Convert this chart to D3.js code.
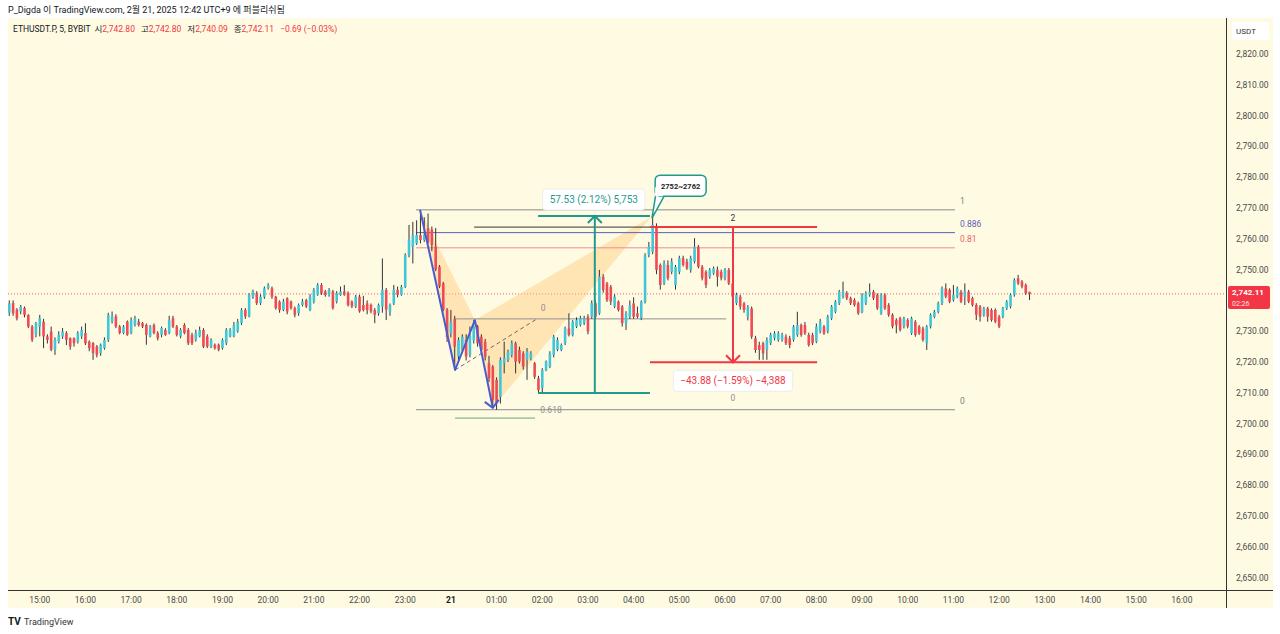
<!DOCTYPE html>
<html>
<head>
<meta charset="utf-8">
<script src="https://cdn.jsdelivr.net/npm/d3@7"></script>
<style>
  body { margin:0; background:#fff; }
  svg { display:block; font-family: Roboto, "Noto Sans CJK KR", "Noto Sans", sans-serif; }
</style>
</head>
<body>
<svg id="chart" width="1280" height="634"></svg>
<script>
/* ETHUSDT.P 5m candles, first bar 14:20, [open, high, low, close] */
var candles = [
[2736.0,2740.0,2735.0,2739.0],[2739.1,2740.0,2735.0,2735.8],[2737.0,2737.5,2733.5,2734.2],[2736.4,2738.5,2735.5,2738.0],
[2737.5,2738.0,2734.5,2735.3],[2735.3,2735.5,2731.0,2731.5],[2731.5,2732.0,2726.5,2727.2],[2728.8,2733.0,2728.0,2732.6],
[2731.5,2735.3,2728.3,2734.2],[2733.1,2734.0,2724.5,2728.3],[2728.3,2729.0,2726.0,2727.2],[2729.9,2731.5,2723.5,2724.0],
[2724.0,2728.0,2722.3,2727.2],[2726.6,2730.0,2726.0,2728.8],[2728.3,2731.0,2727.5,2729.9],[2729.4,2730.0,2725.5,2727.2],
[2727.7,2728.0,2724.0,2725.0],[2727.7,2728.0,2725.0,2726.1],[2726.6,2730.0,2726.0,2729.4],[2728.3,2731.5,2727.5,2730.4],
[2729.4,2732.6,2725.5,2726.1],[2726.6,2727.0,2723.5,2724.5],[2726.1,2726.5,2720.7,2722.9],[2725.0,2725.5,2721.5,2722.3],
[2722.9,2726.0,2722.0,2725.6],[2724.5,2728.0,2724.0,2727.2],[2727.2,2736.0,2726.5,2735.3],[2733.1,2736.4,2732.5,2734.8],
[2734.8,2735.5,2731.0,2731.5],[2731.5,2732.0,2729.0,2729.4],[2729.4,2732.0,2729.0,2731.5],[2733.1,2733.5,2728.5,2728.8],
[2729.4,2734.5,2729.0,2733.6],[2732.0,2735.0,2731.5,2734.2],[2733.1,2734.0,2731.5,2732.0],[2732.6,2733.0,2731.0,2731.5],
[2732.0,2732.5,2725.6,2728.8],[2728.3,2732.0,2728.0,2731.5],[2732.0,2732.5,2729.0,2729.4],[2729.4,2730.0,2727.0,2727.7],
[2728.8,2731.5,2728.0,2731.0],[2730.4,2731.0,2728.5,2728.8],[2729.4,2735.0,2729.0,2733.6],[2734.2,2735.0,2731.0,2731.5],
[2731.5,2732.0,2728.3,2728.8],[2728.3,2731.0,2727.7,2730.4],[2732.0,2732.6,2729.0,2729.4],[2730.4,2731.0,2725.5,2726.1],
[2728.8,2729.5,2725.5,2726.1],[2727.2,2730.5,2726.6,2729.4],[2728.3,2731.5,2728.0,2730.4],[2730.4,2731.0,2724.5,2725.0],
[2728.3,2729.0,2724.5,2725.0],[2725.0,2727.7,2724.5,2727.2],[2725.6,2726.0,2724.0,2724.5],[2725.6,2726.0,2723.5,2724.0],
[2724.5,2727.7,2724.0,2727.2],[2726.1,2731.0,2725.5,2730.4],[2728.3,2731.0,2728.0,2730.4],[2728.3,2733.0,2728.0,2732.0],
[2729.9,2734.0,2729.5,2733.1],[2732.6,2737.5,2732.0,2736.9],[2736.9,2737.5,2734.0,2734.8],[2734.8,2742.3,2734.5,2741.8],
[2741.2,2743.5,2740.5,2742.9],[2742.3,2743.0,2738.5,2739.1],[2739.1,2742.0,2738.5,2741.2],[2741.2,2744.5,2740.5,2743.9],
[2744.0,2745.6,2743.5,2745.0],[2743.9,2744.5,2740.5,2741.2],[2741.2,2741.5,2737.0,2737.5],[2739.6,2740.0,2736.0,2736.9],
[2736.9,2740.5,2736.5,2739.6],[2740.7,2741.0,2735.5,2736.4],[2739.6,2740.0,2737.0,2737.5],[2737.5,2738.0,2734.5,2735.3],
[2735.8,2739.0,2735.0,2738.5],[2738.5,2740.5,2738.0,2739.6],[2740.1,2740.5,2737.5,2738.0],[2736.9,2742.0,2736.5,2741.2],
[2739.6,2744.0,2739.0,2743.4],[2741.8,2745.6,2741.5,2745.0],[2745.0,2745.6,2741.8,2742.3],[2742.9,2743.4,2741.2,2741.8],
[2741.8,2744.0,2741.2,2743.4],[2742.9,2743.4,2737.0,2737.5],[2739.6,2743.0,2739.0,2742.3],[2741.8,2744.5,2741.5,2742.9],
[2742.9,2745.0,2741.5,2741.8],[2742.3,2742.9,2738.0,2738.5],[2739.6,2740.0,2737.5,2738.0],[2738.0,2741.8,2737.5,2741.2],
[2741.2,2741.8,2736.0,2736.4],[2738.5,2741.5,2736.4,2736.9],[2739.0,2740.0,2735.5,2736.9],[2738.5,2739.0,2735.8,2736.4],
[2736.9,2737.5,2732.6,2735.3],[2735.8,2739.0,2735.0,2738.5],[2738.0,2753.6,2736.0,2743.4],[2743.4,2744.0,2733.6,2737.0],
[2736.3,2739.0,2735.0,2738.5],[2739.0,2745.0,2738.5,2743.4],[2743.4,2744.5,2741.0,2741.8],[2741.8,2745.0,2741.5,2744.4],
[2744.4,2755.3,2744.0,2754.7],[2754.7,2764.5,2754.0,2759.6],[2757.4,2765.5,2752.0,2761.2],[2758.5,2766.0,2758.0,2761.2],
[2761.2,2769.4,2758.5,2759.6],[2759.6,2767.0,2759.0,2761.2],[2763.4,2768.2,2758.5,2759.0],[2763.0,2764.0,2756.0,2758.0],
[2757.5,2763.5,2749.5,2750.0],[2751.0,2751.5,2744.0,2744.5],[2745.5,2746.0,2736.5,2737.0],[2737.0,2737.5,2726.5,2728.0],
[2729.3,2736.9,2728.0,2733.1],[2734.0,2735.0,2717.5,2725.0],[2721.8,2728.0,2720.0,2727.2],[2723.9,2729.0,2723.0,2728.2],
[2727.2,2729.0,2720.5,2721.8],[2722.3,2731.5,2721.5,2728.5],[2727.0,2733.6,2726.0,2731.5],[2731.5,2732.0,2725.0,2726.1],
[2728.2,2729.0,2722.5,2723.9],[2726.6,2727.5,2720.5,2721.7],[2719.6,2722.0,2713.5,2714.7],[2718.5,2719.0,2705.5,2707.7],
[2714.2,2715.0,2704.5,2706.6],[2708.7,2721.5,2706.5,2720.7],[2719.6,2726.6,2716.3,2721.2],[2720.7,2724.0,2720.0,2723.4],
[2722.3,2727.0,2721.5,2726.1],[2726.1,2726.6,2716.3,2720.1],[2723.9,2725.0,2719.5,2720.1],[2722.8,2723.5,2717.5,2718.5],
[2720.7,2724.5,2714.2,2723.4],[2721.2,2723.5,2720.5,2722.8],[2719.6,2720.0,2714.5,2715.2],[2714.7,2715.5,2709.9,2710.9],
[2711.5,2718.0,2710.0,2717.4],[2717.4,2720.5,2717.0,2720.1],[2718.5,2723.5,2718.0,2722.8],[2722.3,2728.8,2721.5,2728.2],
[2724.0,2728.0,2723.5,2727.2],[2723.9,2726.0,2723.5,2725.5],[2726.1,2731.5,2725.5,2730.9],[2730.9,2735.8,2728.3,2728.8],
[2728.8,2733.6,2728.3,2733.1],[2731.5,2734.5,2731.0,2733.6],[2732.0,2735.0,2731.5,2734.2],[2732.6,2735.0,2732.0,2734.2],
[2734.7,2735.5,2729.0,2729.9],[2734.7,2740.0,2734.0,2739.1],[2739.1,2740.0,2734.0,2734.7],[2735.8,2749.9,2735.3,2747.7],
[2747.7,2748.5,2742.5,2743.4],[2745.5,2746.0,2739.5,2740.1],[2744.4,2745.0,2738.5,2739.6],[2738.0,2742.0,2737.5,2741.2],
[2739.6,2740.0,2736.4,2736.9],[2738.0,2738.5,2731.5,2732.6],[2732.6,2736.5,2730.4,2735.8],[2734.7,2740.0,2734.0,2738.5],
[2739.0,2741.0,2734.0,2734.7],[2735.8,2738.0,2734.2,2734.7],[2734.2,2740.0,2733.6,2739.6],[2739.6,2755.3,2739.0,2754.7],
[2754.8,2759.0,2754.0,2757.4],[2755.8,2767.5,2755.0,2764.5],[2764.0,2765.0,2748.5,2749.9],[2751.5,2752.0,2743.5,2745.0],
[2745.5,2753.0,2745.0,2752.0],[2751.5,2753.0,2746.5,2747.2],[2749.3,2753.7,2748.5,2752.6],[2745.0,2751.5,2743.5,2750.9],
[2749.3,2754.5,2748.5,2753.7],[2753.7,2754.5,2751.0,2751.5],[2752.6,2753.5,2749.9,2750.4],[2749.9,2754.5,2749.0,2753.7],
[2752.6,2760.2,2752.0,2757.4],[2757.4,2758.0,2750.4,2750.9],[2750.9,2751.5,2746.5,2747.2],[2749.3,2749.8,2744.0,2745.0],
[2747.7,2750.5,2747.0,2749.9],[2748.8,2751.0,2748.3,2750.4],[2749.9,2751.0,2744.5,2747.7],[2749.3,2750.0,2746.5,2747.2],
[2747.2,2750.5,2746.5,2749.9],[2749.9,2750.5,2745.0,2745.5],[2745.5,2746.0,2740.5,2741.2],[2739.1,2742.5,2738.5,2741.8],
[2741.2,2741.8,2737.0,2738.0],[2739.0,2739.5,2736.0,2736.9],[2734.7,2738.5,2733.5,2737.9],[2737.4,2738.0,2727.5,2728.2],
[2727.7,2728.5,2723.0,2723.9],[2725.5,2726.6,2720.7,2723.9],[2726.1,2726.6,2720.7,2722.8],[2723.9,2728.0,2720.7,2727.2],
[2726.1,2729.5,2725.5,2728.8],[2727.7,2730.0,2727.0,2729.3],[2727.2,2730.0,2726.6,2729.3],[2727.2,2729.5,2726.6,2728.8],
[2728.2,2729.0,2725.5,2726.1],[2727.7,2728.5,2724.5,2725.5],[2727.2,2732.0,2726.6,2731.5],[2728.8,2736.3,2728.2,2732.0],
[2732.0,2732.5,2728.2,2728.8],[2732.0,2733.0,2728.8,2729.3],[2728.8,2729.5,2725.0,2725.5],[2728.8,2729.5,2725.5,2726.1],
[2726.6,2732.5,2726.1,2731.5],[2729.9,2734.0,2729.3,2733.1],[2731.5,2732.0,2728.8,2729.3],[2729.9,2735.3,2729.3,2734.7],
[2734.2,2738.5,2733.6,2738.0],[2736.3,2740.1,2735.8,2739.6],[2739.1,2743.4,2738.5,2742.8],[2741.2,2746.1,2740.6,2742.8],
[2742.3,2743.0,2740.1,2740.7],[2740.7,2741.2,2738.5,2739.1],[2740.1,2740.7,2738.0,2738.5],[2739.1,2739.6,2735.3,2735.8],
[2736.3,2742.3,2735.8,2741.8],[2739.1,2743.0,2738.5,2742.3],[2741.8,2745.5,2741.2,2742.8],[2742.8,2743.4,2740.1,2740.7],
[2741.8,2742.3,2736.9,2737.4],[2735.8,2742.3,2735.3,2741.8],[2741.8,2742.3,2736.9,2737.4],[2738.5,2739.1,2734.7,2735.3],
[2735.3,2735.8,2730.9,2731.5],[2733.6,2734.2,2729.3,2732.0],[2734.2,2734.7,2729.9,2730.4],[2731.5,2734.7,2730.9,2734.2],
[2733.6,2734.2,2730.9,2731.5],[2729.3,2734.7,2728.8,2734.2],[2733.1,2733.6,2728.2,2728.8],[2731.5,2732.0,2728.8,2729.3],
[2730.9,2731.5,2726.6,2727.2],[2726.1,2732.0,2723.9,2731.5],[2731.5,2735.8,2730.9,2735.3],[2734.7,2736.9,2734.2,2736.3],
[2736.3,2739.6,2735.8,2739.1],[2739.1,2744.5,2738.5,2743.9],[2743.9,2745.5,2740.7,2741.2],[2743.4,2743.9,2739.1,2739.6],
[2740.1,2745.0,2739.6,2741.8],[2741.2,2744.5,2740.7,2743.9],[2742.8,2743.4,2739.1,2739.6],[2741.2,2745.5,2738.5,2742.8],
[2742.8,2743.4,2739.1,2739.6],[2740.7,2741.2,2738.0,2738.5],[2738.5,2739.1,2733.6,2735.3],[2738.0,2738.5,2733.1,2734.7],
[2735.3,2737.9,2734.7,2737.4],[2737.4,2737.9,2733.1,2734.7],[2736.9,2737.4,2733.1,2733.6],[2736.9,2737.4,2732.6,2733.1],
[2734.7,2735.3,2731.0,2731.5],[2734.7,2737.9,2734.2,2737.4],[2737.4,2740.1,2736.9,2739.6],[2738.0,2742.3,2737.4,2741.8],
[2741.8,2747.2,2741.2,2746.6],[2747.2,2748.3,2745.0,2745.5],[2746.1,2746.6,2743.9,2744.5],[2745.0,2745.5,2741.8,2742.3],
[2742.8,2742.8,2740.09,2742.11]
];

/* axis labels (2,740 is covered by the last price tag) */
var priceTicks = [2650,2660,2670,2680,2690,2700,2710,2720,2730,2750,2760,2770,2780,2790,2800,2810,2820];
var timeLabels = ["15:00","16:00","17:00","18:00","19:00","20:00","21:00","22:00","23:00","21",
                  "01:00","02:00","03:00","04:00","05:00","06:00","07:00","08:00","09:00","10:00",
                  "11:00","12:00","13:00","14:00","15:00","16:00"];
var firstHourBar = 8;     // bar index of 15:00
var barsPerHour = 12;

/* legend */
var headerText = "P_Digda 이 TradingView.com, 2월 21, 2025 12:42 UTC+9 에 퍼블리쉬됨";
var symbolText = "ETHUSDT.P, 5, BYBIT";
var ohlcNames = ["시","고","저","종"];
var ohlcValues = ["2,742.80","2,742.80","2,740.09","2,742.11"];
var changeText = "\u22120.69 (\u22120.03%)";
var lastPrice = 2742.11;
var countdown = "02:26";

/* drawings, anchors are [bar index, price] */
var harmonicPath = [[107.9,2769.4],[117.1,2717.4],[122.3,2733.6],[127.0,2705.1]];
var harmonicFill1 = [[107.9,2769.4],[117.1,2717.4],[122.3,2733.6]];
var harmonicFill2 = [[122.3,2733.6],[127.0,2705.1],[168.6,2767.1]];
var harmonicDash = [[117.1,2717.4],[138.6,2734.0]];

var fibStart = 106.8, fibEnd = 248.4;
var fibHigh = 2769.4, fibLow = 2704.5;
var fibLevels = [1, 0.886, 0.81, 0];
var fibLabels = ["1","0.886","0.81","0"];
var fibColors = ["#8a8a8a","#5860b8","#f28b8f","#8a8a8a"];
var fibTextColors = ["#787b86","#5d63b8","#f0616a","#787b86"];

var extraLines = [
  {from:117.1, to:188.3, price:2734.0, color:"#8f8f8f"},
  {from:122.1, to:168.8, price:2763.8, color:"#333333"},
  {from:117.1, to:138.1, price:2701.8, color:"#6aa86a"}
];
var extraLabels = [
  {bar:140.2, price:2736.4, text:"0",     color:"#8f8f8f"},
  {bar:142.3, price:2703.5, text:"0.618", color:"#8f8f8f"},
  {bar:190.1, price:2765.8, text:"2",     color:"#333"},
  {bar:190.1, price:2707.2, text:"0",     color:"#8f8f8f"}
];

var longRange = {from:138.9, to:168.3, mid:153.8, top:2767.4, bottom:2709.9, text:"57.53 (2.12%) 5,753"};
var shortRange = {from:168.3, to:212.2, mid:190.1, top:2763.8, bottom:2719.9, text:"\u221243.88 (\u22121.59%) \u22124,388"};
var callout = {tip:[168.8,2766.6], bar:170.7, price:2778.4, text:"2752~2762"};

var upColor = "#3fc6d8", downColor = "#ee4b55", wickColor = "#333333";
var red = "#f23645", teal = "#1f9a8c", blue = "#4a5bd0";

var svg = d3.select("#chart");

var x = d3.scaleLinear().domain([-0.34, 319.6]).range([8, 1226]);
var y = d3.scaleLinear().domain([2645.97, 2831.69]).range([590, 18]);
var line = d3.line().x(function(d){return x(d[0]);}).y(function(d){return y(d[1]);});

/* header + pane background */
svg.append("text").attr("x",8).attr("y",13).attr("font-size",9).attr("fill","#131722").text(headerText);
svg.append("rect").attr("x",8).attr("y",18).attr("width",1265).attr("height",590).attr("fill","#fffbe3");

/* current price dotted line */
svg.append("line").attr("x1",8).attr("x2",1226).attr("y1",y(lastPrice)).attr("y2",y(lastPrice))
  .attr("stroke",red).attr("stroke-width",1).attr("stroke-dasharray","1,2").attr("opacity",0.8);

/* harmonic fills */
var dr = svg.append("g");
[harmonicFill1, harmonicFill2].forEach(function(tri){
  dr.append("path").attr("d", line(tri) + "Z").attr("fill","#ffc77a").attr("opacity",0.45);
});
dr.append("path").attr("d", line(harmonicDash)).attr("fill","none").attr("stroke","#6b6b6b")
  .attr("stroke-width",1).attr("stroke-dasharray","4,3");

/* fib levels */
fibLevels.forEach(function(lv, i){
  var p = fibLow + lv*(fibHigh-fibLow);
  dr.append("line").attr("x1",x(fibStart)).attr("x2",x(fibEnd)).attr("y1",y(p)).attr("y2",y(p))
    .attr("stroke",fibColors[i]).attr("stroke-width",1);
  dr.append("text").attr("x",x(fibEnd)+5).attr("y",y(p)-6).attr("font-size",8.5)
    .attr("fill",fibTextColors[i]).text(fibLabels[i]);
});

extraLines.forEach(function(l){
  dr.append("line").attr("x1",x(l.from)).attr("x2",x(l.to)).attr("y1",y(l.price)).attr("y2",y(l.price))
    .attr("stroke",l.color).attr("stroke-width",1);
});
extraLabels.forEach(function(l){
  dr.append("text").attr("x",x(l.bar)).attr("y",y(l.price)).attr("font-size",8.5).attr("text-anchor","middle")
    .attr("fill",l.color).text(l.text);
});

/* candles */
var cg = svg.append("g");
var bars = cg.selectAll("g.bar").data(candles).enter().append("g").attr("class","bar");
bars.append("line")
  .attr("x1",function(d,i){return x(i);}).attr("x2",function(d,i){return x(i);})
  .attr("y1",function(d){return y(d[1]);}).attr("y2",function(d){return y(d[2]);})
  .attr("stroke",wickColor).attr("stroke-width",1);
bars.append("rect")
  .attr("x",function(d,i){return x(i)-1.3;}).attr("width",2.6)
  .attr("y",function(d){return y(Math.max(d[0],d[3]));})
  .attr("height",function(d){return Math.max(1, Math.abs(y(d[0])-y(d[3])));})
  .attr("fill",function(d){return d[3]>=d[0] ? upColor : downColor;});

/* harmonic line on top */
dr = svg.append("g");
dr.append("path").attr("d", line(harmonicPath)).attr("fill","none").attr("stroke",blue).attr("stroke-width",2)
  .attr("stroke-linejoin","round");
var c = harmonicPath[harmonicPath.length-1];
dr.append("path").attr("d","M"+(x(c[0])-8)+","+(y(c[1])-6)+"L"+x(c[0])+","+y(c[1])+"L"+(x(c[0])+6)+","+(y(c[1])-8))
  .attr("fill","none").attr("stroke",blue).attr("stroke-width",2);

/* price range tools */
function priceRange(r, color, up) {
  var g = svg.append("g");
  [r.top, r.bottom].forEach(function(p){
    g.append("line").attr("x1",x(r.from)).attr("x2",x(r.to)).attr("y1",y(p)).attr("y2",y(p))
      .attr("stroke",color).attr("stroke-width",2);
  });
  g.append("line").attr("x1",x(r.mid)).attr("x2",x(r.mid)).attr("y1",y(r.top)).attr("y2",y(r.bottom))
    .attr("stroke",color).attr("stroke-width",2);
  var ay = up ? y(r.top) : y(r.bottom), s = up ? 1 : -1;
  g.append("path").attr("d","M"+(x(r.mid)-7)+","+(ay+7*s)+"L"+x(r.mid)+","+ay+"L"+(x(r.mid)+7)+","+(ay+7*s))
    .attr("fill","none").attr("stroke",color).attr("stroke-width",2);
  var t = g.append("text").attr("font-size",10).attr("fill",color).attr("text-anchor","middle").text(r.text);
  var cx = up ? x(r.mid)-1 : x(r.mid);
  var cy = up ? y(r.top)-17 : y(r.bottom)+18;
  t.attr("x",cx).attr("y",cy+4);
  var w = t.node().getComputedTextLength()+14;
  g.insert("rect","text").attr("x",cx-w/2).attr("y",cy-10).attr("width",w).attr("height",21).attr("rx",3)
    .attr("fill","#fff").attr("stroke","#ececec");
}
priceRange(longRange, teal, true);
priceRange(shortRange, red, false);

/* callout */
var cog = svg.append("g");
var bx = x(callout.bar)-4, by = y(callout.price)-7;
cog.append("path").attr("d","M"+(bx+2)+","+(by+11)+"L"+x(callout.tip[0])+","+y(callout.tip[1])+"L"+(bx+9)+","+(by+21))
  .attr("fill","#fff").attr("stroke",teal).attr("stroke-width",1.5);
cog.append("rect").attr("x",bx).attr("y",by).attr("width",51).attr("height",21).attr("rx",5)
  .attr("fill","#fff").attr("stroke",teal).attr("stroke-width",1.5);
cog.append("path").attr("d","M"+(bx+1)+","+(by+12)+"L"+(bx+1)+","+(by+20)+"L"+(bx+8)+","+(by+20))
  .attr("fill","none").attr("stroke","#fff").attr("stroke-width",2);
cog.append("text").attr("x",bx+25.5).attr("y",by+13.5).attr("text-anchor","middle").attr("font-size",7.5)
  .attr("font-weight","bold").attr("fill","#222").text(callout.text);

/* legend */
var lg = svg.append("text").attr("x",13).attr("y",32).attr("font-size",8.5).attr("fill","#131722");
lg.append("tspan").text(symbolText + "  ");
ohlcNames.forEach(function(n,i){
  lg.append("tspan").attr("dx", i==0 ? 2 : 6).text(n);
  lg.append("tspan").attr("fill",red).text(ohlcValues[i]);
});
lg.append("tspan").attr("dx",6).attr("fill",red).text(changeText);

/* axes */
svg.append("line").attr("x1",1226.5).attr("x2",1226.5).attr("y1",18).attr("y2",608).attr("stroke","#333");
svg.append("line").attr("x1",8).attr("x2",1273).attr("y1",590.5).attr("y2",590.5).attr("stroke","#333");

svg.selectAll("text.pt").data(priceTicks).enter().append("text").attr("class","pt")
  .attr("x",1236).attr("y",function(d){return y(d)+3;}).attr("font-size",8.5).attr("fill","#4a4a4a")
  .text(function(d){return d3.format(",.2f")(d);});

svg.selectAll("text.tt").data(timeLabels).enter().append("text").attr("class","tt")
  .attr("x",function(d,i){return x(firstHourBar + i*barsPerHour);}).attr("y",603)
  .attr("text-anchor","middle").attr("font-size",8.5)
  .attr("font-weight",function(d){return d.length<3 ? "bold" : "normal";})
  .attr("fill",function(d){return d.length<3 ? "#131722" : "#4a4a4a";})
  .text(function(d){return d;});

/* USDT box */
svg.append("rect").attr("x",1232).attr("y",22).attr("width",37).attr("height",18).attr("rx",2).attr("fill","#fff");
svg.append("text").attr("x",1246).attr("y",34).attr("text-anchor","middle").attr("font-size",8).attr("fill","#333").text("USDT");

/* last price label */
var ly = y(lastPrice);
svg.append("rect").attr("x",1228).attr("y",ly-8).attr("width",42).attr("height",23).attr("rx",2).attr("fill",red);
svg.append("text").attr("x",1232).attr("y",ly+1).attr("font-size",8).attr("font-weight","bold").attr("fill","#fff")
  .text(d3.format(",.2f")(lastPrice));
svg.append("text").attr("x",1232).attr("y",ly+12.5).attr("font-size",7).attr("fill","#ffe0e0").text(countdown);

/* footer */
svg.append("text").attr("x",8).attr("y",625).attr("font-size",10).attr("font-weight","bold").attr("fill","#131722").text("TV");
svg.append("text").attr("x",24).attr("y",625).attr("font-size",9).attr("fill","#333").text("TradingView");
</script>
</body>
</html>
